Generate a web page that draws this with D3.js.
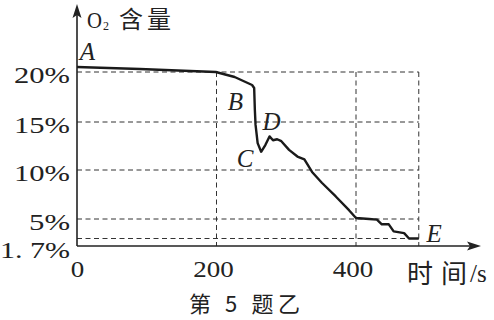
<!DOCTYPE html>
<html><head><meta charset="utf-8">
<script src="https://cdn.jsdelivr.net/npm/d3@7"></script>
<style>body{margin:0;background:#fff}svg{display:block}</style>
</head><body>
<script>
// data
const times = [0, 90, 199, 226, 251, 254, 255, 256, 259, 264, 270, 276, 281, 287, 293, 304, 316, 326, 337, 351, 371, 390, 400, 419, 430, 437, 447, 454, 469, 476, 490];
const o2 = [20.5, 20.3, 20.0, 19.5, 18.7, 18.4, 16.2, 14.7, 12.8, 11.9, 12.6, 13.5, 13.1, 13.2, 13.0, 12.1, 11.4, 11.1, 9.8, 8.7, 7.3, 5.9, 5.1, 5.0, 4.9, 4.1, 4.1, 2.9, 2.6, 1.7, 1.7];
const yTicks = [1.7, 5, 10, 15, 20];
const yTickLabels = ["1. 7%", "5%", "10%", "15%", "20%"];
const xTicks = [0, 200, 400];
const xGrid = [200, 400, 490];
const pointNames = ["A", "B", "C", "D", "E"];
const pointT = [4, 216, 229, 266, 501];
const pointV = [21.2, 16.2, 10.3, 14.2, 0.9];

const W = 494, H = 320;
const svg = d3.select("body").append("svg").attr("width", W).attr("height", H);
const x = d3.scaleLinear().domain([0, 200]).range([77, 216.5]);
const y = d3.scaleLinear().domain([0, 1.7, 5, 10, 15, 20]).range([246, 238.5, 219, 170, 122, 72]);
const serif = "'Liberation Serif', 'DejaVu Serif', serif";
const cjk = "'Noto Sans CJK SC', sans-serif";
const ink = "#222";

// grid dashes
const g = svg.append("g").attr("stroke", "#333").attr("stroke-width", 1).attr("stroke-dasharray", "5,3.5");
yTicks.forEach(v => g.append("line").attr("x1", x(0)).attr("x2", x(490)).attr("y1", y(v)).attr("y2", y(v)));
xGrid.forEach(v => g.append("line").attr("x1", x(v)).attr("x2", x(v)).attr("y1", y(20)).attr("y2", y(0)));

// axes
const ax = svg.append("g").attr("stroke", ink).attr("stroke-width", 1.6);
ax.append("line").attr("x1", x(0)).attr("x2", 476).attr("y1", y(0)).attr("y2", y(0));
ax.append("line").attr("x1", x(0)).attr("x2", x(0)).attr("y1", y(0)).attr("y2", 10);
svg.append("path").attr("d", `M481,${y(0)} L467,${y(0)-4.5} L470,${y(0)} L467,${y(0)+4.5} Z`).attr("fill", ink);
svg.append("path").attr("d", `M${x(0)},4 L${x(0)-4.5},18 L${x(0)},15 L${x(0)+4.5},18 Z`).attr("fill", ink);

// curve
svg.append("path").datum(times.map((t, i) => [t, o2[i]]))
  .attr("d", d3.line().x(d => x(d[0])).y(d => y(d[1])).curve(d3.curveLinear))
  .attr("fill", "none").attr("stroke", "#1a1a1a").attr("stroke-width", 2.4).attr("stroke-linejoin", "round");

// tick labels
const tl = svg.append("g").attr("font-family", serif).attr("font-size", 24).attr("fill", ink);
yTicks.forEach((v, i) => {
  const lab = yTickLabels[i];
  const w = lab.length === 2 ? 41 : (lab.length === 3 ? 56 : 70);
  tl.append("text").attr("x", 70 - w).attr("y", y(v) + (v === 1.7 ? 19.5 : 10.5))
    .attr("textLength", w).attr("lengthAdjust", "spacingAndGlyphs").text(lab);
});
xTicks.forEach(v => {
  const w = String(v).length * 13.5;
  tl.append("text").attr("x", x(v) - w / 2 - (v === 0 ? -0.5 : 3)).attr("y", 277)
    .attr("textLength", w).attr("lengthAdjust", "spacingAndGlyphs").text(v);
});

// axis titles
function txt(str, px, py, family, size, extra) {
  const t = svg.append("text").attr("x", px).attr("y", py).attr("fill", ink)
    .style("font-family", family).style("font-size", size + "px").text(str);
  if (extra) extra(t);
  return t;
}
txt("O", 87, 28, serif, 23, t => t.attr("textLength", 15).attr("lengthAdjust", "spacingAndGlyphs"));
txt("2", 103, 30, serif, 12);
txt("含量", 119, 28, cjk, 24, t => t.attr("textLength", 52).attr("lengthAdjust", "spacing"));
txt("时间", 407, 283, cjk, 26, t => t.attr("textLength", 60).attr("lengthAdjust", "spacing"));
txt("/s", 470, 282, serif, 25);

// caption
svg.append("text").attr("x", 189).attr("y", 312).attr("font-family", cjk)
  .attr("font-size", 22).attr("fill", ink).attr("textLength", 111).attr("lengthAdjust", "spacing").text("第 5 题乙");

// point labels
pointNames.forEach((n, i) => svg.append("text").attr("x", x(pointT[i])).attr("y", y(pointV[i]))
  .attr("font-family", serif).attr("font-style", "italic").attr("font-size", 25).attr("fill", ink).text(n));
</script>
</body></html>
